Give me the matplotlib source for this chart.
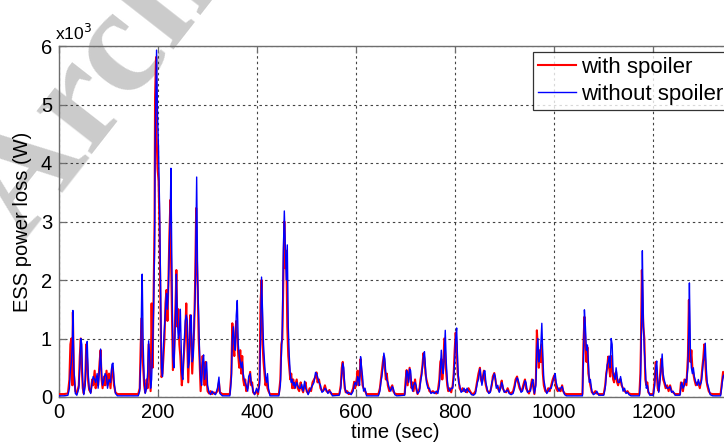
import matplotlib
matplotlib.use("Agg")
import matplotlib.pyplot as plt
from matplotlib.ticker import FuncFormatter

# time samples (s) and ESS power loss (W) for the two configurations
t_sec = [0, 10, 18, 21, 23, 25, 27, 28, 30, 33, 36, 40, 42, 44, 46, 48, 50, 53, 55, 57,
         59, 61, 64, 67, 69, 72, 74, 77, 79, 82, 84, 86, 88, 91, 93, 96, 98, 101, 104, 107,
         109, 111, 114, 118, 160, 163, 165, 167, 168, 170, 172, 174, 177, 179, 181, 183, 185, 187, 189, 191,
         193, 194, 196, 197, 199, 201, 203, 205, 207, 209, 211, 213, 215, 217, 219, 221, 223, 225, 226, 228,
         230, 232, 234, 236, 237, 239, 241, 243, 245, 248, 250, 252, 255, 257, 259, 261, 263, 265, 267, 269,
         271, 273, 275, 277, 278, 280, 282, 284, 286, 288, 290, 292, 294, 296, 298, 300, 303, 306, 309, 312,
         316, 320, 323, 325, 330, 345, 348, 350, 352, 354, 356, 358, 360, 362, 364, 366, 368, 370, 372, 374,
         376, 378, 381, 383, 386, 388, 390, 392, 395, 399, 402, 405, 407, 409, 411, 413, 415, 417, 419, 421,
         423, 426, 444, 447, 449, 451, 453, 455, 457, 459, 461, 463, 465, 467, 469, 471, 473, 475, 477, 480,
         482, 485, 488, 490, 493, 496, 498, 500, 503, 506, 509, 512, 515, 518, 520, 522, 525, 528, 531, 534,
         537, 540, 543, 546, 549, 552, 566, 569, 571, 573, 575, 577, 579, 582, 585, 590, 594, 596, 598, 601,
         603, 605, 607, 609, 611, 613, 615, 618, 621, 645, 648, 650, 652, 654, 656, 658, 660, 662, 664, 667,
         670, 673, 675, 678, 682, 698, 700, 702, 704, 706, 708, 710, 712, 714, 716, 719, 721, 724, 728, 730,
         732, 734, 736, 738, 740, 742, 745, 748, 751, 755, 758, 762, 765, 768, 770, 772, 774, 776, 778, 780,
         782, 784, 786, 789, 792, 795, 797, 799, 801, 803, 805, 807, 809, 812, 815, 818, 821, 824, 827, 830,
         833, 837, 841, 843, 845, 847, 850, 852, 854, 856, 858, 860, 862, 865, 868, 871, 874, 876, 879, 881,
         883, 886, 889, 892, 894, 896, 899, 903, 906, 909, 913, 917, 920, 922, 925, 927, 930, 933, 936, 939,
         941, 943, 946, 949, 952, 955, 957, 960, 963, 965, 967, 969, 971, 973, 975, 977, 979, 982, 985, 988,
         991, 994, 997, 1000, 1002, 1004, 1007, 1010, 1013, 1016, 1018, 1021, 1025, 1057, 1059, 1061, 1063, 1065, 1067, 1069,
         1071, 1073, 1076, 1079, 1083, 1086, 1090, 1100, 1103, 1105, 1107, 1109, 1111, 1113, 1115, 1117, 1119, 1121, 1123, 1125,
         1127, 1129, 1132, 1134, 1136, 1139, 1142, 1145, 1148, 1151, 1155, 1172, 1174, 1175, 1177, 1178, 1180, 1182, 1184, 1186,
         1188, 1190, 1193, 1200, 1203, 1205, 1207, 1209, 1211, 1214, 1216, 1218, 1220, 1222, 1225, 1228, 1231, 1234, 1237, 1240,
         1244, 1254, 1256, 1258, 1260, 1263, 1265, 1267, 1270, 1272, 1273, 1275, 1277, 1279, 1281, 1283, 1286, 1289, 1291, 1294,
         1297, 1299, 1301, 1303, 1305, 1307, 1309, 1312, 1315, 1320, 1336, 1338, 1341, 1345, 1350, 1357]

p_with = [50, 50, 60, 300, 900, 1000, 200, 1450, 400, 100, 60, 200, 700, 1000, 500, 150, 60, 300, 900, 600,
          250, 120, 80, 300, 200, 450, 150, 300, 200, 600, 800, 300, 150, 350, 200, 450, 200, 400, 150, 500,
          450, 200, 80, 50, 50, 150, 900, 1350, 800, 500, 200, 80, 300, 150, 900, 500, 100, 1600, 500, 1800,
          3000, 5130, 5810, 4500, 3900, 3700, 2900, 1500, 340, 400, 700, 1000, 1600, 1830, 1300, 2000, 2800, 3370, 2500, 1500,
          460, 600, 1200, 1800, 2170, 1200, 1500, 900, 700, 200, 400, 700, 1100, 1600, 900, 250, 800, 1400, 1000, 400,
          800, 1200, 2000, 3230, 2500, 1900, 1000, 600, 100, 400, 700, 500, 200, 600, 300, 100, 60, 100, 50, 80,
          60, 100, 250, 80, 50, 50, 400, 1260, 900, 700, 1100, 1300, 1000, 700, 500, 800, 400, 700, 300, 200,
          300, 100, 150, 250, 430, 200, 250, 80, 50, 100, 50, 300, 1600, 2000, 900, 600, 400, 200, 300, 150,
          100, 50, 50, 300, 900, 1000, 2000, 3000, 2200, 2500, 1200, 700, 500, 300, 400, 150, 300, 150, 200, 300,
          150, 100, 250, 150, 80, 200, 250, 100, 60, 150, 100, 250, 300, 350, 420, 250, 300, 150, 100, 120,
          200, 100, 80, 120, 60, 50, 50, 200, 500, 600, 350, 150, 80, 100, 50, 60, 150, 260, 150, 300,
          450, 200, 350, 650, 400, 200, 150, 100, 50, 50, 150, 300, 450, 600, 700, 500, 300, 400, 200, 100,
          150, 200, 100, 60, 50, 50, 300, 460, 200, 350, 500, 300, 150, 250, 100, 300, 150, 50, 150, 300,
          400, 550, 750, 650, 400, 300, 200, 100, 80, 100, 80, 60, 100, 300, 600, 650, 300, 500, 1000, 700,
          400, 200, 100, 150, 80, 200, 400, 800, 1100, 900, 400, 300, 150, 100, 150, 100, 120, 80, 150, 100,
          60, 50, 100, 200, 300, 400, 500, 300, 250, 350, 450, 300, 200, 100, 80, 100, 200, 350, 410, 300,
          200, 150, 100, 200, 280, 150, 100, 80, 150, 80, 60, 100, 200, 300, 350, 250, 150, 100, 150, 250,
          300, 150, 100, 60, 150, 300, 200, 50, 300, 1140, 800, 500, 800, 600, 900, 400, 200, 100, 80, 150,
          100, 200, 300, 370, 300, 150, 100, 150, 100, 200, 100, 60, 50, 50, 900, 1370, 900, 600, 850, 400,
          300, 200, 80, 60, 100, 60, 50, 50, 200, 400, 500, 690, 500, 350, 700, 500, 300, 250, 400, 430,
          250, 200, 300, 300, 200, 150, 100, 80, 100, 60, 50, 50, 400, 830, 2170, 1800, 1200, 1000, 300, 200,
          250, 80, 50, 50, 300, 600, 400, 150, 100, 400, 650, 500, 300, 250, 150, 200, 100, 200, 100, 80,
          50, 50, 250, 200, 100, 300, 250, 200, 700, 1660, 1000, 600, 800, 500, 400, 300, 200, 250, 250, 150,
          300, 500, 660, 900, 600, 300, 200, 100, 60, 50, 50, 200, 430, 300, 150, 60]

p_without = [20, 20, 30, 150, 450, 600, 900, 1480, 500, 60, 30, 150, 500, 1000, 900, 200, 40, 200, 800, 950,
             400, 150, 60, 250, 350, 300, 250, 400, 150, 500, 820, 400, 200, 300, 400, 350, 150, 300, 250, 560,
             580, 300, 60, 20, 20, 100, 600, 1800, 2100, 900, 300, 60, 150, 400, 960, 700, 150, 300, 800, 1500,
             2500, 4200, 5400, 5930, 4800, 4250, 3300, 2000, 500, 350, 900, 1200, 1500, 1770, 1500, 1900, 2600, 3300, 3910, 2200,
             700, 500, 1000, 1600, 2100, 1300, 1000, 1100, 1500, 400, 300, 800, 1300, 1400, 1300, 500, 600, 1300, 1400, 600,
             700, 1300, 1700, 3000, 3760, 2000, 1400, 700, 300, 200, 600, 720, 300, 450, 600, 200, 80, 40, 100, 60,
             40, 150, 340, 60, 20, 20, 300, 1000, 1200, 900, 800, 1400, 1650, 900, 700, 600, 500, 600, 400, 300,
             250, 200, 100, 350, 400, 250, 200, 100, 40, 150, 80, 200, 1000, 2050, 1500, 900, 600, 350, 250, 400,
             150, 20, 20, 200, 700, 1200, 2500, 3180, 2600, 2000, 2600, 1200, 700, 400, 250, 300, 200, 250, 150, 250,
             200, 150, 150, 220, 100, 270, 150, 120, 40, 100, 150, 200, 250, 420, 400, 350, 250, 200, 80, 100,
             150, 120, 60, 100, 80, 20, 30, 150, 400, 580, 500, 200, 100, 60, 80, 40, 100, 200, 250, 200,
             350, 300, 200, 690, 500, 350, 100, 150, 20, 20, 100, 250, 350, 500, 750, 650, 400, 300, 250, 150,
             100, 180, 150, 40, 20, 30, 200, 450, 400, 250, 480, 450, 200, 100, 200, 250, 200, 60, 100, 250,
             350, 500, 700, 775, 500, 250, 150, 150, 60, 80, 60, 100, 60, 200, 450, 800, 500, 400, 700, 1140,
             600, 300, 150, 100, 150, 150, 300, 600, 1000, 1180, 600, 250, 200, 80, 100, 150, 80, 150, 100, 80,
             40, 30, 60, 150, 250, 300, 480, 350, 200, 300, 430, 450, 250, 120, 60, 80, 250, 300, 400, 350,
             150, 200, 80, 150, 250, 200, 80, 100, 120, 60, 40, 60, 150, 250, 330, 300, 200, 80, 100, 200,
             280, 250, 80, 100, 100, 250, 300, 60, 200, 800, 1000, 600, 700, 900, 1260, 700, 300, 150, 60, 100,
             150, 150, 250, 350, 400, 250, 150, 100, 150, 180, 120, 40, 20, 20, 600, 1490, 1200, 800, 890, 600,
             250, 300, 100, 40, 60, 100, 30, 30, 150, 350, 550, 600, 700, 500, 1000, 900, 400, 350, 300, 500,
             350, 250, 250, 350, 250, 100, 150, 60, 80, 40, 20, 20, 200, 600, 1500, 2500, 1300, 800, 500, 150,
             200, 100, 30, 30, 200, 500, 615, 300, 80, 300, 500, 735, 400, 300, 200, 150, 150, 180, 80, 100,
             30, 30, 200, 250, 150, 200, 300, 250, 500, 1200, 1950, 800, 500, 400, 500, 350, 250, 200, 300, 200,
             250, 400, 600, 700, 920, 500, 250, 150, 40, 20, 20, 150, 350, 400, 200, 50]

y_ticks = [0, 1000, 2000, 3000, 4000, 5000, 6000]
x_ticks = [0, 200, 400, 600, 800, 1000, 1200]
series_labels = ["with spoiler", "without spoiler"]

plt.rcParams["font.family"] = ["Liberation Sans", "DejaVu Sans"]

fig = plt.figure(figsize=(7.24, 4.45), dpi=100)
fig.patch.set_facecolor("white")

# faint diagonal watermark behind the axes
fig.text(0.03, 0.455, "Archive", rotation=52, rotation_mode="anchor",
         ha="left", va="baseline", fontsize=110, family=["Liberation Serif", "DejaVu Serif"],
         fontweight="bold", color="#cbcbcb", zorder=0)

ax = fig.add_axes([59 / 724, 48 / 445, 672 / 724, 351 / 445])
ax.set_facecolor("none")
ax.set_zorder(1)

ax.plot(t_sec, p_with, color="#ff0000", lw=1.5, label=series_labels[0], zorder=3)
ax.plot(t_sec, p_without, color="#0000ff", lw=1.0, label=series_labels[1], zorder=4)

ax.set_xlim(0, 1357)
ax.set_ylim(0, 6000)
ax.set_xticks(x_ticks)
ax.set_yticks(y_ticks)
ax.yaxis.set_major_formatter(FuncFormatter(lambda v, p: f"{v / 1000:g}"))

ax.grid(True, color="#222222", linestyle=(0, (2.2, 2.8)), lw=0.8, alpha=0.85)
for side in ["left", "bottom", "top", "right"]:
    ax.spines[side].set_color("#6e6e6e")
    ax.spines[side].set_linewidth(1.0)
ax.tick_params(axis="both", direction="in", length=5, width=0.9, color="#6e6e6e",
               labelsize=14.5, labelcolor="black", top=True, right=True)
ax.tick_params(axis="x", pad=4)
ax.tick_params(axis="y", pad=5)

ax.set_xlabel("time (sec)", fontsize=14.5, labelpad=1)
ax.set_ylabel("ESS power loss (W)", fontsize=14.5, labelpad=6)

ax.text(-0.006, 1.008, r"x10$^{3}$", transform=ax.transAxes, fontsize=12.5,
        ha="left", va="bottom")

leg = ax.legend(loc="upper left", bbox_to_anchor=(0.7054, 0.982), fontsize=16,
                frameon=True, fancybox=False, borderpad=0.22, labelspacing=0.25,
                handlelength=1.7, handletextpad=0.25, borderaxespad=0.0)
leg.get_frame().set_edgecolor("black")
leg.get_frame().set_linewidth(0.9)
leg.set_zorder(6)

fig.savefig("out.png", dpi=100, facecolor="white")
